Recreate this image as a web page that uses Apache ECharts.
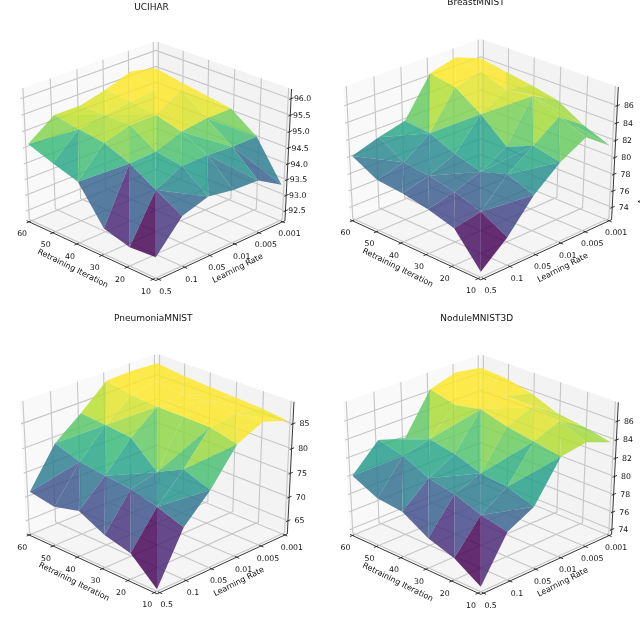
<!DOCTYPE html>
<html><head><meta charset="utf-8"><style>html,body{margin:0;background:#fff}#c{width:640px;height:644px}</style>
<script src="https://cdn.jsdelivr.net/npm/echarts@6/dist/echarts.min.js"></script></head><body><div id="c"></div><script>
const iterLabels=['10','20','30','40','50','60'];
const lrLabels=['0.5','0.1','0.05','0.01','0.005','0.001'];
const titles=['UCIHAR','BreastMNIST','PneumoniaMNIST','NoduleMNIST3D'];
const zTicks=[[92.5,93,93.5,94,94.5,95,95.5,96],[74,76,78,80,82,84,86],[65,70,75,80,85],[74,76,78,80,82,84,86]];
const zFmt=[1,0,0,0];
const zLim=[[92.18,96.29],[72.5,88.1],[62.2,89.35],[73.44,88.0]];
// accuracy: rows = retraining iteration 10..60, columns = learning rate 0.5..0.001
const uciHar=[[92.83,93.74,93.99,93.85,93.81,93.34],[92.77,94.19,94.59,94.60,94.54,94.54],[93.00,94.67,94.71,95.00,95.11,95.11],[94.11,94.98,95.21,95.21,95.68,95.23],[94.35,95.08,95.21,95.32,95.39,95.36],[94.62,95.21,95.20,95.41,95.69,95.50]];
const breastMnist=[[73.17,75.81,79.41,81.91,83.56,81.39],[76.87,77.47,80.52,82.60,84.75,82.62],[77.74,78.51,79.58,81.28,85.98,84.40],[78.31,79.11,80.42,83.87,85.56,85.04],[78.60,79.43,81.65,85.87,86.59,85.52],[80.18,81.18,81.97,86.40,87.19,86.03]];
const pneumoniaMnist=[[62.62,72.89,78.11,85.00,87.42,85.64],[67.59,74.77,80.06,86.31,86.96,86.27],[68.99,76.12,77.33,86.43,87.46,86.56],[71.63,76.65,82.25,86.47,86.90,86.82],[70.27,77.38,82.79,86.89,87.70,87.21],[71.18,79.06,83.19,87.90,88.09,87.78]];
const noduleMnist3d=[[74.02,78.76,80.23,84.42,84.83,83.74],[75.84,79.33,81.21,84.91,86.03,84.36],[76.77,80.38,81.50,85.42,86.51,84.75],[78.48,80.95,82.47,86.22,86.60,85.90],[78.75,82.29,82.98,85.66,86.99,86.54],[80.09,82.90,82.00,86.34,87.20,86.73]];
const values=[uciHar,breastMnist,pneumoniaMnist,noduleMnist3d];
const view=[{cx:155.8,cy:156.5,sx:1872,sy:1520},{cx:480.8,cy:155,sx:1896,sy:1530},{cx:157,cy:469.5,sx:1889,sy:1524},{cx:480.8,cy:470,sx:1896,sy:1524}];
const titlePos=[[151.5,7.3],[476,3],[153.3,319],[476.7,319]];
const diagShared=['VHHVH','VVHVH','VHVHH','VVHVV','HHVVV'];
const diagPanels=[['VHVHH','VVVHH','HVVVH','VVHVV','HHVVV'],diagShared,diagShared,diagShared];
const PAD=0.02,E=30*Math.PI/180,CE=Math.cos(E),SE=Math.sin(E),R2=Math.SQRT2;
const norm=i=>PAD+(1-2*PAD)*i/5;
function proj(a,b,c){const rho=(b-a)/R2,tau=(1-a-b)/R2,zeta=c-.5;const w=10-(tau*CE+zeta*SE);return [rho/w,(zeta*CE-tau*SE)/w,w];}
const vir=['#440154','#482878','#3e4989','#31688e','#26828e','#1f9e89','#35b779','#6ece58','#b5de2b','#fde725'].map(h=>[1,3,5].map(p=>parseInt(h.substr(p,2),16)));
function cmap(t){t=Math.max(0,Math.min(1,t))*9;const k=Math.min(8,Math.floor(t)),f=t-k;const c=vir[k].map((v,n)=>Math.round(v+(vir[k+1][n]-v)*f));return `rgba(${c[0]},${c[1]},${c[2]},0.82)`;}
const F='"DejaVu Sans"';
const series=[],grids=[],xAxes=[],yAxes=[];
view.forEach((v,k)=>{
grids.push({left:v.cx-v.sx*.08,top:v.cy-v.sy*.09,width:v.sx*.16,height:v.sy*.18,outerBoundsMode:'none'});
xAxes.push({type:'value',gridIndex:k,min:-.08,max:.08,show:false});
yAxes.push({type:'value',gridIndex:k,min:-.09,max:.09,show:false});
const zc=z=>(z-zLim[k][0])/(zLim[k][1]-zLim[k][0]);
const P=(api,a,b,c)=>{const p=proj(a,b,c);return api.coord([p[0],p[1]]);};
series.push({type:'custom',xAxisIndex:k,yAxisIndex:k,silent:true,animation:false,clip:false,data:[[0,0]],renderItem(par,api){
const ch=[];
const poly=(pts,fill)=>ch.push({type:'polygon',shape:{points:pts.map(q=>P(api,...q))},style:{fill,stroke:null}});
const line=(pts,stroke,w)=>ch.push({type:'polyline',shape:{points:pts.map(q=>P(api,...q))},style:{fill:null,stroke,lineWidth:w}});
const text=(t,x,y,size,rot,fill)=>ch.push({type:'text',x,y,rotation:rot||0,style:{text:t,fontSize:size,fontFamily:F,fill:fill||'#111',align:'center',verticalAlign:'middle'}});
poly([[0,0,0],[1,0,0],[1,1,0],[0,1,0]],'#f5f5f5');
poly([[1,0,0],[1,1,0],[1,1,1],[1,0,1]],'#f9f9f9');
poly([[0,1,0],[1,1,0],[1,1,1],[0,1,1]],'#f3f3f3');
const gc='#c6c6c6';
for(let i=0;i<6;i++){const t=norm(i);line([[t,0,0],[t,1,0],[t,1,1]],gc,1.1);line([[0,t,0],[1,t,0],[1,t,1]],gc,1.1);}
zTicks[k].forEach(z=>{const c=zc(z);line([[1,0,c],[1,1,c],[0,1,c]],gc,1.1);});
line([[1,0,0],[0,0,0],[0,1,0],[0,1,1]],'#222',.9);
for(let i=0;i<6;i++){const t=norm(i);line([[t,-.018,0],[t,.012,0]],'#222',.9);line([[-.018,t,0],[.012,t,0]],'#222',.9);
const q=P(api,t,0,0);text(iterLabels[i],q[0]-7,q[1]+12.5,7.8);const r=P(api,0,t,0);text(lrLabels[i],r[0]+7,r[1]+12.5,7.8);}
zTicks[k].forEach(z=>{const c=zc(z);line([[0,.985,c],[0,1.02,c]],'#222',.9);const q=P(api,0,1,c);text(z.toFixed(zFmt[k]),q[0]+11.5,q[1]+.5,7.8);});
const n=P(api,0,0,0);
text('Retraining Iteration',n[0]-83,n[1]-12,8,-.46);
text('Learning Rate',n[0]+82,n[1]-12,8,.47);
text(titles[k],titlePos[k][0],titlePos[k][1],9);
if(k===1)text('Accuracy',642.5,186,8,Math.PI/2);
return {type:'group',children:ch};
}});
const tris=[];
const diag=diagPanels[k];
for(let i=0;i<5;i++)for(let j=0;j<5;j++){
const A=[i,j],B=[i+1,j],C=[i,j+1],D=[i+1,j+1];
if(diag[i][j]==='V'){tris.push([A,B,D],[A,C,D]);}else{tris.push([A,B,C],[B,C,D]);}
}
const items=tris.map(t=>{const m=t.reduce((s,q)=>s+values[k][q[0]][q[1]],0)/3;const ps=t.map(q=>proj(norm(q[0]),norm(q[1]),zc(values[k][q[0]][q[1]])));return {t,m,d:ps.reduce((s,p)=>s+p[2],0)/3,ps};});
items.sort((p,q)=>q.d-p.d);
const mn=Math.min(...items.map(x=>x.m)),mx=Math.max(...items.map(x=>x.m));
series.push({type:'custom',xAxisIndex:k,yAxisIndex:k,silent:true,animation:false,clip:false,data:items.map((x,n)=>[x.ps[0][0],x.ps[0][1],n]),renderItem(par,api){const x=items[api.value(2)];return {type:'polygon',shape:{points:x.ps.map(p=>api.coord([p[0],p[1]]))},style:{fill:cmap((x.m-mn)/(mx-mn)*1.07),stroke:null}};}});
});
const chart=echarts.init(document.getElementById('c'),null,{renderer:'canvas'});
chart.setOption({animation:false,backgroundColor:'#fff',grid:grids,xAxis:xAxes,yAxis:yAxes,series});
</script></body></html>
